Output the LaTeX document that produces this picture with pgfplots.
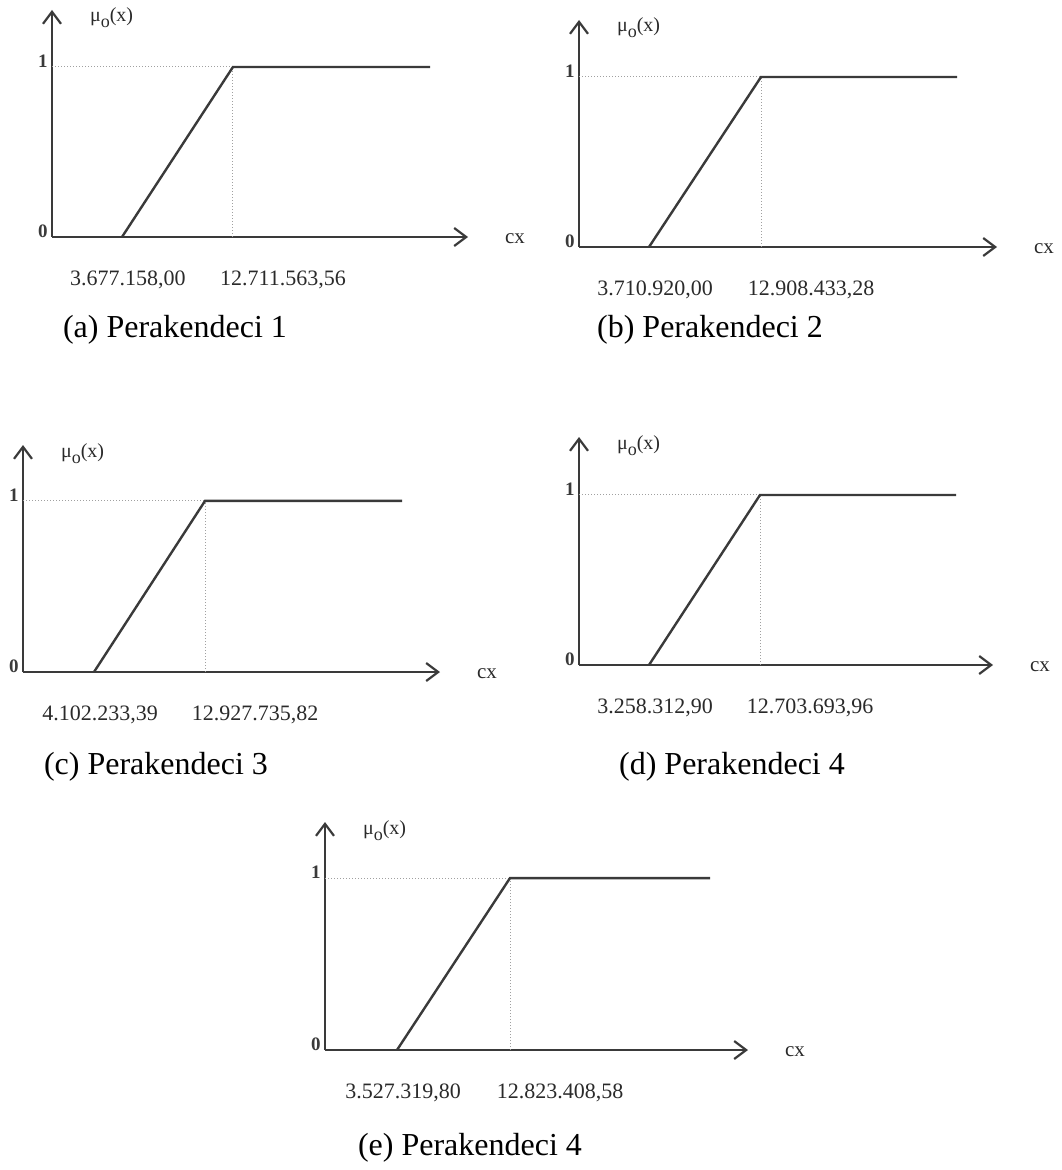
\documentclass[border=0pt]{standalone}
\usepackage{fontspec}
\setmainfont{Liberation Serif}
\usepackage{pgfplots}
\pgfplotsset{compat=1.18}
\usetikzlibrary{arrows.meta}
\definecolor{ln}{HTML}{3A3A3A}
\definecolor{dt}{HTML}{A0A0A0}
\definecolor{tx}{HTML}{2A2A2A}
\pgfplotsset{panel/.style={
  scale only axis, anchor=south west, axis lines=left, ymin=0,
  axis line style={line width=1.3pt, ln, -{Straight Barb[length=6pt,width=9pt,line width=1.1pt]}},
  ytick={0,1}, yticklabels={0,1}, major tick length=0pt, xtick=\empty,
  yticklabel style={font=\bfseries\fontsize{9.5}{9.5}\selectfont, inner sep=1pt, xshift=-1pt, yshift=3pt, text=ln},
  /pgf/number format/assume math mode=true,
  clip=false,
},
ramp/.style={line width=1.2pt, ln, no marks, line join=miter},
guide/.style={line width=0.5pt, dt, densely dotted, no marks},
}
\newcommand{\lbls}[4]{%
  \node[font=\fontsize{11}{12}\selectfont, text=tx, xshift=3pt, yshift=-21.5pt] at (axis cs:#1,0) {#3};
  \node[font=\fontsize{11}{12}\selectfont, text=tx, xshift=25pt, yshift=-21.5pt] at (axis cs:#2,0) {#4};
  \node[anchor=west, font=\fontsize{10.5}{12}\selectfont, text=tx, xshift=15pt, yshift=-1pt] at (rel axis cs:1,0) {cx};
  \node[anchor=base west, font=\fontsize{10}{12}\selectfont, text=tx, xshift=15.5pt, yshift=-6pt] at (rel axis cs:0,1) {μ\raisebox{-3pt}{\fontsize{9}{9}\selectfont o}(x)};
}
\begin{document}
\begin{tikzpicture}
\path[use as bounding box] (0,0) rectangle (530.5pt,-585pt);

% (a)
\begin{axis}[panel, at={(26pt,-118.5pt)}, width=208pt, height=113.5pt,
  xmin=-2.020, xmax=31.84, ymax=1.335]
\addplot[guide] coordinates {(-2.020,1) (12.71156356,1)};
\addplot[guide] coordinates {(12.71156356,0) (12.71156356,1)};
\addplot[ramp] coordinates {(3.677158,0) (12.71156356,1) (28.75,1)};
\lbls{3.677158}{12.71156356}{3.677.158,00}{12.711.563,56}
\end{axis}

% (b)
\begin{axis}[panel, at={(289.5pt,-123.5pt)}, width=209pt, height=113.5pt,
  xmin=-2.038, xmax=32.289, ymax=1.335]
\addplot[guide] coordinates {(-2.038,1) (12.90843328,1)};
\addplot[guide] coordinates {(12.90843328,0) (12.90843328,1)};
\addplot[ramp] coordinates {(3.71092,0) (12.90843328,1) (29.005,1)};
\lbls{3.71092}{12.90843328}{3.710.920,00}{12.908.433,28}
\end{axis}

% (c)
\begin{axis}[panel, at={(11.5pt,-336pt)}, width=208.5pt, height=113.5pt,
  xmin=-1.543, xmax=31.612, ymax=1.327]
\addplot[guide] coordinates {(-1.543,1) (12.92773582,1)};
\addplot[guide] coordinates {(12.92773582,0) (12.92773582,1)};
\addplot[ramp] coordinates {(4.10223339,0) (12.92773582,1) (28.591,1)};
\lbls{4.10223339}{12.92773582}{4.102.233,39}{12.927.735,82}
\end{axis}

% (d)
\begin{axis}[panel, at={(289.5pt,-332.5pt)}, width=207pt, height=114pt,
  xmin=-2.698, xmax=32.530, ymax=1.341]
\addplot[guide] coordinates {(-2.698,1) (12.70369396,1)};
\addplot[guide] coordinates {(12.70369396,0) (12.70369396,1)};
\addplot[ramp] coordinates {(3.2583129,0) (12.70369396,1) (29.381,1)};
\lbls{3.2583129}{12.70369396}{3.258.312,90}{12.703.693,96}
\end{axis}

% (e)
\begin{axis}[panel, at={(162.5pt,-525pt)}, width=211.5pt, height=114pt,
  xmin=-2.396, xmax=32.402, ymax=1.326]
\addplot[guide] coordinates {(-2.396,1) (12.82340858,1)};
\addplot[guide] coordinates {(12.82340858,0) (12.82340858,1)};
\addplot[ramp] coordinates {(3.5273198,0) (12.82340858,1) (29.276,1)};
\lbls{3.5273198}{12.82340858}{3.527.319,80}{12.823.408,58}
\end{axis}

\node[font=\fontsize{16}{18}\selectfont] at (87.5pt,-165pt) {(a) Perakendeci 1};
\node[font=\fontsize{16}{18}\selectfont] at (355pt,-165pt) {(b) Perakendeci 2};
\node[font=\fontsize{16}{18}\selectfont] at (78pt,-383.5pt) {(c) Perakendeci 3};
\node[font=\fontsize{16}{18}\selectfont] at (366pt,-383.5pt) {(d) Perakendeci 4};
\node[font=\fontsize{16}{18}\selectfont] at (235pt,-574pt) {(e) Perakendeci 4};
\end{tikzpicture}
\end{document}
